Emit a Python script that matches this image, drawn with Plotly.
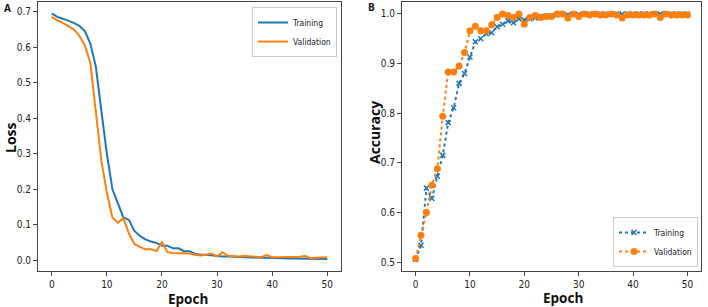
import plotly.graph_objects as go

epochs = list(range(51))

loss_train = [0.695, 0.685, 0.680, 0.675, 0.668, 0.660, 0.645, 0.610, 0.545, 0.420,
              0.300, 0.200, 0.160, 0.120, 0.113, 0.082, 0.068, 0.058, 0.052, 0.048,
              0.040, 0.040, 0.033, 0.033, 0.025, 0.025, 0.018, 0.015, 0.015, 0.013,
              0.012, 0.010, 0.010, 0.009, 0.008, 0.008, 0.007, 0.007, 0.006, 0.006,
              0.005, 0.005, 0.005, 0.004, 0.004, 0.004, 0.004, 0.003, 0.003, 0.003, 0.003]

loss_val = [0.685, 0.675, 0.668, 0.660, 0.650, 0.632, 0.605, 0.555, 0.420, 0.280,
            0.190, 0.120, 0.105, 0.118, 0.075, 0.045, 0.037, 0.030, 0.030, 0.025,
            0.050, 0.022, 0.020, 0.020, 0.020, 0.018, 0.015, 0.013, 0.015, 0.018,
            0.010, 0.022, 0.012, 0.010, 0.010, 0.011, 0.010, 0.009, 0.008, 0.014,
            0.008, 0.008, 0.008, 0.008, 0.008, 0.009, 0.011, 0.005, 0.006, 0.008, 0.008]

acc_train = [0.505, 0.534, 0.649, 0.628, 0.673, 0.715, 0.781, 0.811, 0.860, 0.880,
             0.913, 0.944, 0.950, 0.960, 0.962, 0.974, 0.979, 0.986, 0.982, 0.990,
             0.988, 0.990, 0.992, 0.995, 0.995, 0.996, 0.998, 1.000, 0.998, 1.000,
             0.999, 1.000, 1.000, 1.000, 1.000, 1.000, 1.000, 1.000, 1.000, 1.000,
             1.000, 1.000, 1.000, 1.000, 1.000, 1.000, 1.000, 1.000, 1.000, 1.000, 1.000]

acc_val = [0.507, 0.554, 0.600, 0.655, 0.688, 0.794, 0.883, 0.883, 0.895, 0.922,
           0.966, 0.975, 0.966, 0.966, 0.978, 0.993, 1.000, 0.997, 0.993, 1.000,
           0.979, 0.993, 0.997, 0.993, 0.995, 0.995, 1.000, 1.000, 0.992, 1.000,
           0.995, 1.000, 0.998, 1.000, 0.998, 0.998, 1.000, 0.998, 0.992, 0.998,
           0.998, 0.998, 0.998, 0.998, 1.000, 0.993, 1.000, 0.998, 0.998, 0.998, 0.998]

loss_ticks = [0.0, 0.1, 0.2, 0.3, 0.4, 0.5, 0.6, 0.7]
acc_ticks = [0.5, 0.6, 0.7, 0.8, 0.9, 1.0]
epoch_ticks = [0, 10, 20, 30, 40, 50]

BLUE = "#1f77b4"
ORANGE = "#ff7f0e"
TICKFONT = dict(family="DejaVu Sans Condensed, DejaVu Sans", size=10, color="#222")
TITLEFONT = dict(family="Open Sans", size=14, color="#111", weight="bold")
XTITLEFONT = dict(family="Open Sans", size=13.5, color="#111", weight="bold")
LEGFONT = dict(family="DejaVu Sans Condensed, DejaVu Sans", size=8.5, color="#222")

fig = go.Figure()

fig.add_trace(go.Scatter(x=epochs, y=loss_train, mode="lines", name="Training",
                         line=dict(color=BLUE, width=2), xaxis="x", yaxis="y",
                         legend="legend"))
fig.add_trace(go.Scatter(x=epochs, y=loss_val, mode="lines", name="Validation",
                         line=dict(color=ORANGE, width=2), xaxis="x", yaxis="y",
                         legend="legend"))

fig.add_trace(go.Scatter(x=epochs, y=acc_train, mode="lines+markers", name="Training",
                         line=dict(color=BLUE, width=2, dash="dot"),
                         marker=dict(symbol="x-thin", size=5, color=BLUE,
                                     line=dict(color=BLUE, width=1.5)),
                         xaxis="x2", yaxis="y2", legend="legend2"))
fig.add_trace(go.Scatter(x=epochs, y=acc_val, mode="lines+markers", name="Validation",
                         line=dict(color=ORANGE, width=2, dash="dot"),
                         marker=dict(symbol="circle", size=7, color=ORANGE),
                         xaxis="x2", yaxis="y2", legend="legend2"))

axis_common = dict(showline=True, mirror=True, linecolor="#444", linewidth=1,
                   showgrid=False, zeroline=False, ticks="outside", ticklen=4,
                   tickwidth=1, tickcolor="#444", tickfont=TICKFONT, automargin=False)

fig.update_layout(
    width=708, height=307,
    margin=dict(l=0, r=0, t=0, b=0, autoexpand=False),
    paper_bgcolor="white", plot_bgcolor="white",
    xaxis=dict(domain=[38/708, 341/708], range=[-2.5, 52.5], tickvals=epoch_ticks,
               anchor="y", **axis_common),
    yaxis=dict(domain=[1-271/307, 1-2/307], range=[-0.031, 0.727], tickvals=loss_ticks,
               tickformat=".1f", anchor="x", **axis_common),
    xaxis2=dict(domain=[402/708, 701/708], range=[-2.5, 52.5], tickvals=epoch_ticks,
                anchor="y2", **axis_common),
    yaxis2=dict(domain=[1-271/307, 1-1.5/307], range=[0.482, 1.025], tickvals=acc_ticks,
                tickformat=".1f", anchor="x2", **axis_common),
    legend=dict(x=337/708, y=1-7/307, xanchor="right", yanchor="top",
                bgcolor="white", bordercolor="#ccc", borderwidth=1,
                font=LEGFONT, itemwidth=30, tracegroupgap=0),
    legend2=dict(x=698/708, y=1-267/307, xanchor="right", yanchor="bottom",
                 bgcolor="white", bordercolor="#ccc", borderwidth=1,
                 font=LEGFONT, itemwidth=30, tracegroupgap=0),
    showlegend=True,
)

annotations = [
    dict(text="<b>A</b>", x=7/708, y=1-8/307, font=dict(family="Open Sans", size=10, color="#111")),
    dict(text="<b>B</b>", x=371/708, y=1-7/307, font=dict(family="Open Sans", size=10, color="#111")),
    dict(text="Loss", x=10/708, y=1-138/307, textangle=-90, font=TITLEFONT),
    dict(text="Epoch", x=188/708, y=1-298.5/307, font=XTITLEFONT),
    dict(text="Accuracy", x=374/708, y=1-133/307, textangle=-90, font=TITLEFONT),
    dict(text="Epoch", x=563/708, y=1-298/307, font=XTITLEFONT),
]
for a in annotations:
    fig.add_annotation(xref="paper", yref="paper", showarrow=False,
                       xanchor="center", yanchor="middle", **a)

fig.write_html("out.html", config={"displayModeBar": False},
               post_script="document.body.style.margin='0';")
